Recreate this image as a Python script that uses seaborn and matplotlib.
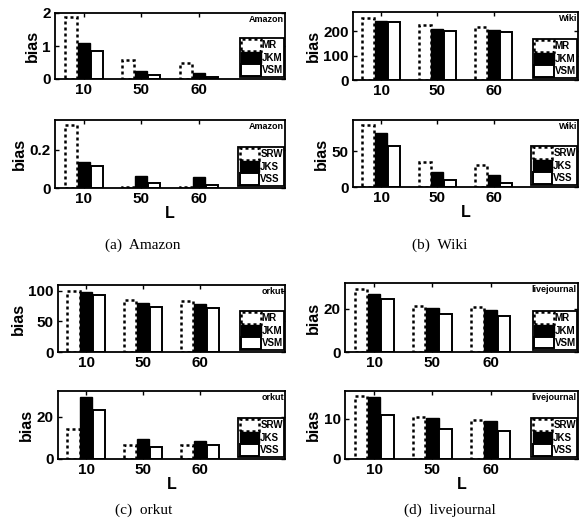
import numpy as np
import pandas as pd
import matplotlib
matplotlib.use("Agg")
import matplotlib.pyplot as plt
from matplotlib.patches import Patch
import seaborn as sns

# walk lengths on the x axis
L_values = ["10", "50", "60"]
top_methods = ["MR", "JKM", "VSM"]
bottom_methods = ["SRW", "JKS", "VSS"]

# (a) Amazon
amazon_mr = [1.88, 0.58, 0.50]
amazon_jkm = [1.09, 0.24, 0.18]
amazon_vsm = [0.85, 0.11, 0.07]
amazon_srw = [0.33, 0.006, 0.006]
amazon_jks = [0.134, 0.064, 0.056]
amazon_vss = [0.118, 0.026, 0.016]

# (b) Wiki
wiki_mr = [256, 225, 218]
wiki_jkm = [245, 209, 205]
wiki_vsm = [238, 202, 198]
wiki_srw = [87, 35, 30.5]
wiki_jks = [75.4, 21.3, 17]
wiki_vss = [57, 9.2, 6]

# (c) orkut
orkut_mr = [100, 85, 83]
orkut_jkm = [97, 80, 77.5]
orkut_vsm = [92, 73, 71.5]
orkut_srw = [14.2, 6.4, 6.4]
orkut_jks = [29.4, 9.4, 8.6]
orkut_vss = [23.1, 5.6, 6.7]

# (d) livejournal
lj_mr = [29.2, 21.5, 21.1]
lj_jkm = [27, 20.3, 19.5]
lj_vsm = [24.5, 17.7, 16.7]
lj_srw = [15.7, 10.4, 9.8]
lj_jks = [15.4, 10.25, 9.6]
lj_vss = [10.9, 7.6, 7.05]

plt.rcParams["font.family"] = ["Liberation Sans", "DejaVu Sans"]
plt.rcParams["font.weight"] = "bold"
plt.rcParams["axes.labelweight"] = "bold"

W, H = 584, 528
fig = plt.figure(figsize=(W / 100, H / 100), dpi=100)


def box(x0, y0, x1, y1):
    return [x0 / W, 1 - y1 / H, (x1 - x0) / W, (y1 - y0) / H]


styles = [
    dict(facecolor="white", edgecolor="black", linestyle=(0, (1.2, 1.2)), linewidth=1.8),
    dict(facecolor="black", edgecolor="black", linestyle="-", linewidth=1.0),
    dict(facecolor="white", edgecolor="black", linestyle="-", linewidth=1.4),
]


def draw(pos, methods, values, name, ylim, yticks, ylabels, show_L):
    ax = fig.add_axes(box(*pos))
    df = pd.DataFrame({
        "L": L_values * 3,
        "method": np.repeat(methods, 3),
        "bias": np.concatenate(values),
    })
    sns.barplot(data=df, x="L", y="bias", hue="method", order=L_values,
                hue_order=methods, width=0.68, gap=0.06, errorbar=None,
                legend=False, ax=ax)
    for cont, st in zip(ax.containers, styles):
        for bar in cont:
            bar.set(**st)
    ax.set_xlim(-0.5, 3.5)
    ax.set_ylim(*ylim)
    ax.set_yticks(yticks)
    ax.set_yticklabels(ylabels)
    ax.set_ylabel("bias", fontsize=11.5, labelpad=2)
    ax.set_xlabel("L" if show_L else "", fontsize=11.5, labelpad=0)
    ax.tick_params(direction="in", length=3, width=1, labelsize=11,
                   top=True, right=True, pad=3)
    for s in ax.spines.values():
        s.set_linewidth(1.3)
        s.set_color("black")
    ax.text(0.995, 0.97, name, transform=ax.transAxes, ha="right", va="top",
            fontsize=6.5, fontweight="bold")
    handles = [Patch(label=m, **st) for m, st in zip(methods, styles)]
    leg = ax.legend(handles=handles, loc="lower right",
                    bbox_to_anchor=(0.997, 0.03), fontsize=7,
                    handlelength=2.0, handleheight=1.45, handletextpad=0.1,
                    labelspacing=0.08, borderpad=0.15, borderaxespad=0,
                    fancybox=False, framealpha=1)
    leg.get_frame().set_edgecolor("black")
    leg.get_frame().set_linewidth(1.3)
    return ax


# (a) Amazon
draw((55, 13, 285, 79), top_methods, [amazon_mr, amazon_jkm, amazon_vsm],
     "Amazon", (0, 2), [0, 1, 2], ["0", "1", "2"], False)
draw((55, 120, 285, 188), bottom_methods, [amazon_srw, amazon_jks, amazon_vss],
     "Amazon", (0, 0.357), [0, 0.2], ["0", "0.2"], True)

# (b) Wiki
draw((353, 12, 578, 80), top_methods, [wiki_mr, wiki_jkm, wiki_vsm],
     "Wiki", (0, 280), [0, 100, 200], ["0", "100", "200"], False)
draw((353, 120, 578, 187), bottom_methods, [wiki_srw, wiki_jks, wiki_vss],
     "Wiki", (0, 94), [0, 50], ["0", "50"], True)

# (c) orkut
draw((58, 285, 285, 352), top_methods, [orkut_mr, orkut_jkm, orkut_vsm],
     "orkut", (0, 109), [0, 50, 100], ["0", "50", "100"], False)
draw((58, 391, 285, 459), bottom_methods, [orkut_srw, orkut_jks, orkut_vss],
     "orkut", (0, 32), [0, 20], ["0", "20"], True)

# (d) livejournal
draw((345, 283, 578, 352), top_methods, [lj_mr, lj_jkm, lj_vsm],
     "livejournal", (0, 32), [0, 20], ["0", "20"], False)
draw((345, 391, 578, 459), bottom_methods, [lj_srw, lj_jks, lj_vss],
     "livejournal", (0, 17), [0, 10], ["0", "10"], True)

captions = ["(a)  Amazon", "(b)  Wiki", "(c)  orkut", "(d)  livejournal"]
cap_pos = [(143, 245), (440, 245), (144, 510), (450, 510)]
for txt, (cx, cy) in zip(captions, cap_pos):
    fig.text(cx / W, 1 - cy / H, txt, ha="center", va="center",
             family=["Liberation Serif", "DejaVu Serif"], fontweight="normal",
             fontsize=11)

fig.savefig("out.png", dpi=100)
